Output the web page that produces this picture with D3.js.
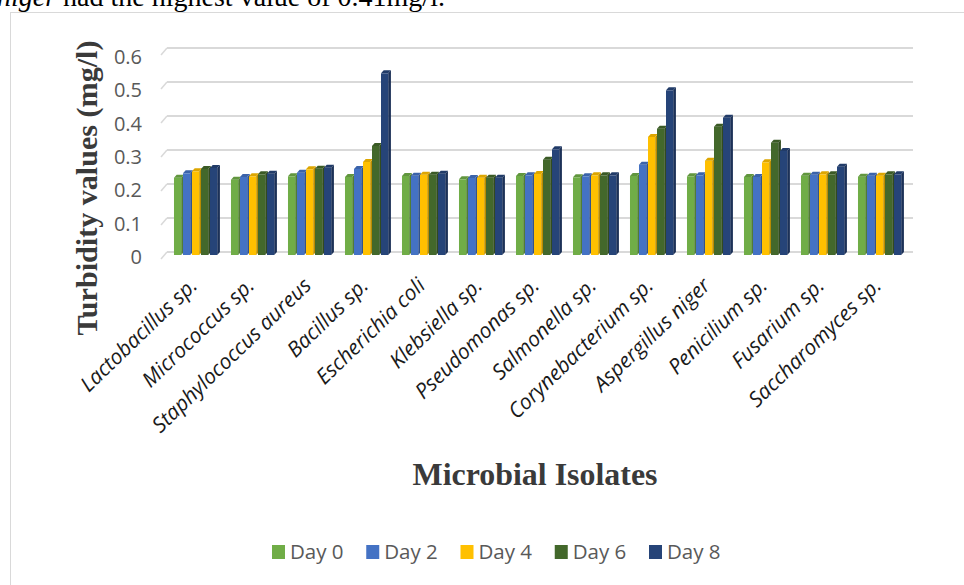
<!DOCTYPE html>
<html><head><meta charset="utf-8">
<script src="https://cdn.jsdelivr.net/npm/d3@7/dist/d3.min.js"></script>
<style>html,body{margin:0;padding:0;background:#fff;overflow:hidden}</style>
</head><body>
<svg id="c" width="964" height="585"></svg>
<script>
const categories = ["Lactobacillus sp.","Micrococcus sp.","Staphylococcus aureus","Bacillus sp.","Escherichia coli","Klebsiella sp.","Pseudomonas sp.","Salmonella sp.","Corynebacterium sp.","Aspergillus niger","Penicilium sp.","Fusarium sp.","Saccharomyces sp."];
const seriesNames = ["Day 0","Day 2","Day 4","Day 6","Day 8"];
const day0 = [0.232,0.226,0.236,0.234,0.237,0.227,0.237,0.233,0.237,0.236,0.234,0.238,0.235];
const day2 = [0.245,0.234,0.247,0.258,0.238,0.231,0.239,0.236,0.271,0.239,0.234,0.241,0.238];
const day4 = [0.251,0.236,0.257,0.279,0.241,0.232,0.243,0.239,0.354,0.283,0.278,0.242,0.238];
const day6 = [0.258,0.242,0.259,0.327,0.241,0.232,0.286,0.239,0.379,0.385,0.337,0.242,0.242];
const day8 = [0.261,0.244,0.262,0.545,0.244,0.232,0.317,0.239,0.494,0.412,0.312,0.265,0.242];
const yTicks = [0,0.1,0.2,0.3,0.4,0.5,0.6];
const yTickLabels = ["0","0.1","0.2","0.3","0.4","0.5","0.6"];
const colors = ["#70ad47","#4472c4","#ffc000","#43682b","#264478"];

const series = [day0,day2,day4,day6,day8];
const svg = d3.select("#c");

// intro text line (cut at top, as in the reference)
const intro = svg.append("text").attr("x",-3).attr("y",6)
  .attr("font-family","'Liberation Serif',serif").attr("font-size",28).attr("fill","#000");
intro.append("tspan").attr("font-style","italic").text("niger");
intro.append("tspan").text(" had the highest value of 0.41mg/l.");

// chart frame
svg.append("rect").attr("x",10.5).attr("y",12.5).attr("width",1000).attr("height",1000)
  .attr("fill","none").attr("stroke","#d9d9d9").attr("stroke-width",1);

const x = d3.scaleBand().domain(categories).range([168,909]).paddingInner(0.21).paddingOuter(0.105);
const xs = d3.scaleBand().domain(seriesNames).range([0,x.bandwidth()]);
const yF = d3.scaleLinear().domain([0,0.6]).range([255,55]);
const yB = d3.scaleLinear().domain([0,0.6]).range([252,48]);

// gridlines on back wall
const grid = svg.append("g");
yTicks.forEach(t=>{
  grid.append("line").attr("x1",167).attr("x2",913).attr("y1",yB(t)).attr("y2",yB(t))
    .attr("stroke","#d9d9d9").attr("stroke-width",2);
  grid.append("line").attr("x1",161).attr("x2",167).attr("y1",yB(t)+7).attr("y2",yB(t))
    .attr("stroke","#d9d9d9").attr("stroke-width",1.5);
});

// y tick labels
const yAxis = d3.axisLeft(yF).tickValues(yTicks).tickFormat((d,i)=>yTickLabels[i]).tickSize(0).tickPadding(0);
const ya = svg.append("g").attr("transform","translate(142,2)").call(yAxis);
ya.select(".domain").remove();
ya.selectAll("text").attr("font-family","'Open Sans',sans-serif").attr("font-size",20).attr("fill","#595959");

// bars (pseudo 3D)
const w = xs.bandwidth()*0.8, d = xs.bandwidth()*0.3, dy = 3;
const bars = svg.append("g");
categories.forEach((c,i)=>{
  series.forEach((s,j)=>{
    const v = s[i];
    const x0 = x(c)+xs(seriesNames[j]);
    const yt = yF(v), yb = yF(0);
    const col = d3.color(colors[j]);
    bars.append("polygon")
      .attr("points",[[x0+w,yt],[x0+w+d,yt-dy],[x0+w+d,yb-dy],[x0+w,yb]].join(" "))
      .attr("fill",col.darker(0.9));
    bars.append("rect").attr("x",x0).attr("y",yt).attr("width",w).attr("height",yb-yt)
      .attr("fill",colors[j]);
    bars.append("polygon")
      .attr("points",[[x0,yt],[x0+d,yt-dy],[x0+w+d,yt-dy],[x0+w,yt]].join(" "))
      .attr("fill",col.darker(0.4));
  });
});

// x labels
const xa = svg.append("g");
categories.forEach(c=>{
  const cx = x(c)+x.bandwidth()/2+2;
  xa.append("text").attr("transform",`translate(${cx},287) rotate(-44)`)
    .attr("text-anchor","end").attr("font-family","'Open Sans',sans-serif")
    .attr("font-style","italic").attr("font-size",21).attr("fill","#1a1a1a").text(c);
});

// axis titles
svg.append("text").attr("transform","translate(97,188) rotate(-90)").attr("text-anchor","middle")
  .attr("font-family","'Liberation Serif',serif").attr("font-weight","bold").attr("font-size",30)
  .attr("textLength",295).attr("lengthAdjust","spacingAndGlyphs")
  .attr("fill","#3a3a3a").text("Turbidity values (mg/l)");
svg.append("text").attr("x",535).attr("y",485).attr("text-anchor","middle")
  .attr("font-family","'Liberation Serif',serif").attr("font-weight","bold").attr("font-size",32)
  .attr("textLength",245).attr("lengthAdjust","spacingAndGlyphs")
  .attr("fill","#3a3a3a").text("Microbial Isolates");

// legend
const legX = d3.scalePoint().domain(seriesNames).range([272,649]);
const leg = svg.append("g");
seriesNames.forEach((n,j)=>{
  leg.append("rect").attr("x",legX(n)).attr("y",545).attr("width",13).attr("height",14).attr("fill",colors[j]);
  leg.append("text").attr("x",legX(n)+18).attr("y",552).attr("dy","0.35em")
    .attr("font-family","'Open Sans',sans-serif").attr("font-size",20.5).attr("fill","#595959").text(n);
});
</script>
</body></html>
